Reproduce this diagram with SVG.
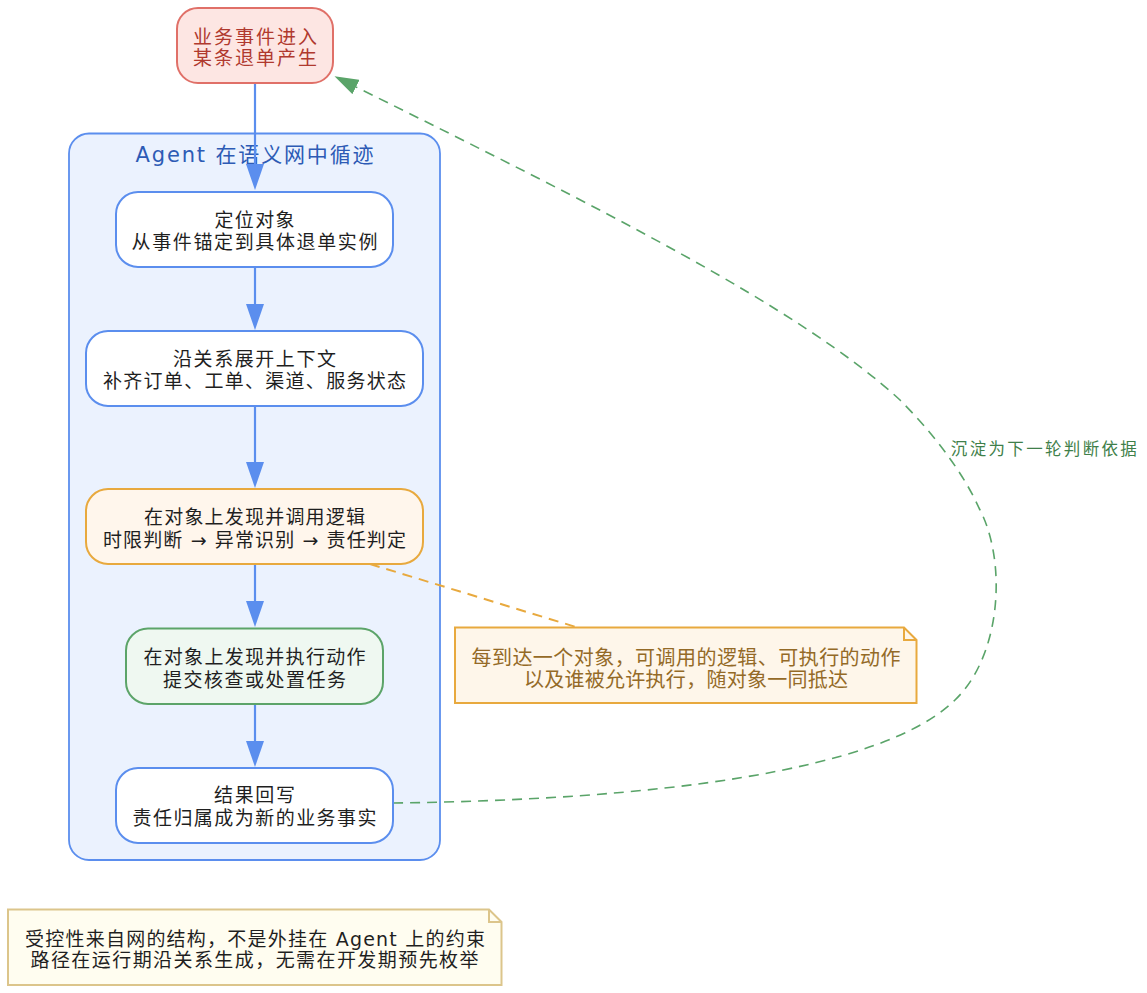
<svg xmlns="http://www.w3.org/2000/svg" width="1147" height="993" viewBox="0 0 1147 993">
<style>
text{font-family:"DejaVu Sans","Noto Sans CJK SC",sans-serif;font-size:19px;text-anchor:middle;dominant-baseline:central;fill:#1f1f1f}
.blue{fill:#ffffff;stroke:#5b8eee;stroke-width:2}
.e{fill:none;stroke:#5b8eee;stroke-width:2.2}
.title{fill:#2d5bb5;font-size:21px}
.lab{fill:#3f7f4a;font-size:16.5px;text-anchor:start}
.onote{fill:#946a27;font-size:20px}
.red{fill:#b0392e}
</style>
<defs>
<marker id="ab" viewBox="0 0 26 18" refX="0" refY="9" markerWidth="26" markerHeight="18" markerUnits="userSpaceOnUse" orient="auto"><path d="M0,0 L26,9 L0,18 Z" fill="#5b8eee"/></marker>
<marker id="ag" viewBox="0 0 24 16" refX="0" refY="8" markerWidth="24" markerHeight="16" markerUnits="userSpaceOnUse" orient="auto"><path d="M0,0 L24,8 L0,16 Z" fill="#5aa469"/></marker>
</defs>
<rect width="1147" height="993" fill="#ffffff"/>
<g id="cluster">
<rect x="69" y="133.5" width="371" height="726.5" rx="20" fill="#ebf2fe" stroke="#5b8eee" stroke-width="1.8"/>
<text class="title" x="254.5" y="155" textLength="238" lengthAdjust="spacing">Agent 在语义网中循迹</text>
</g>
<g id="connectors">
<path class="e" d="M255,83 L255,164" marker-end="url(#ab)"/>
<path class="e" d="M255,267 L255,304" marker-end="url(#ab)"/>
<path class="e" d="M255,406 L255,462" marker-end="url(#ab)"/>
<path class="e" d="M255,564 L255,601" marker-end="url(#ab)"/>
<path class="e" d="M255,704 L255,741" marker-end="url(#ab)"/>
<path d="M370,564 L576,627" fill="none" stroke="#e8a93e" stroke-width="2" stroke-dasharray="10,7"/>
<path d="M393,803 C650,800 882,772 955,700 C1002,655 1007,560 979,508 C962,470 930,430 900,400 C800,308 600,208 356,87" fill="none" stroke="#5aa469" stroke-width="1.6" stroke-dasharray="10,7" marker-end="url(#ag)"/>
<text class="lab" x="950.8" y="449" textLength="186" lengthAdjust="spacing">沉淀为下一轮判断依据</text>
</g>
<g id="start">
<rect x="177" y="8" width="156" height="75" rx="21" fill="#fde6e3" stroke="#e07068" stroke-width="2"/>
<text class="red" x="255" y="37" textLength="124" lengthAdjust="spacing">业务事件进入</text>
<text class="red" x="255" y="58" textLength="124" lengthAdjust="spacing">某条退单产生</text>
</g>
<g id="locate">
<rect class="blue" x="116" y="192" width="277" height="75" rx="22"/>
<text x="254.5" y="219.5" textLength="80" lengthAdjust="spacing">定位对象</text>
<text x="254.5" y="242" textLength="246" lengthAdjust="spacing">从事件锚定到具体退单实例</text>
</g>
<g id="expand">
<rect class="blue" x="86" y="331" width="337" height="75" rx="22"/>
<text x="254.5" y="358.5" textLength="163" lengthAdjust="spacing">沿关系展开上下文</text>
<text x="254.5" y="381" textLength="303" lengthAdjust="spacing">补齐订单、工单、渠道、服务状态</text>
</g>
<g id="logic">
<rect x="86" y="489" width="337" height="75" rx="22" fill="#fff6ec" stroke="#e8a93e" stroke-width="2"/>
<text x="254.5" y="516.5" textLength="221" lengthAdjust="spacing">在对象上发现并调用逻辑</text>
<text x="254.5" y="539.5" textLength="303" lengthAdjust="spacing">时限判断 → 异常识别 → 责任判定</text>
</g>
<g id="action">
<rect x="126" y="628.5" width="257" height="75.5" rx="22" fill="#eff8f1" stroke="#5ca469" stroke-width="2"/>
<text x="254.5" y="657" textLength="222" lengthAdjust="spacing">在对象上发现并执行动作</text>
<text x="254.5" y="679.5" textLength="183" lengthAdjust="spacing">提交核查或处置任务</text>
</g>
<g id="writeback">
<rect class="blue" x="116" y="768" width="277" height="75" rx="22"/>
<text x="254.5" y="795" textLength="81" lengthAdjust="spacing">结果回写</text>
<text x="254.5" y="818" textLength="244" lengthAdjust="spacing">责任归属成为新的业务事实</text>
</g>
<g id="note-arrive">
<path d="M455,627.5 H904 L916.5,640 V703 H455 Z" fill="#fef6ea" stroke="#e8a93e" stroke-width="2"/>
<path d="M904,627.5 V640 H916.5" fill="none" stroke="#e8a93e" stroke-width="2"/>
<text class="onote" x="686" y="658" textLength="429" lengthAdjust="spacing">每到达一个对象，可调用的逻辑、可执行的动作</text>
<text class="onote" x="686" y="680" textLength="324" lengthAdjust="spacing">以及谁被允许执行，随对象一同抵达</text>
</g>
<g id="note-control">
<path d="M8,909.5 H489 L501.5,922 V985 H8 Z" fill="#fffdf0" stroke="#dcc58b" stroke-width="2"/>
<path d="M489,909.5 V922 H501.5" fill="none" stroke="#dcc58b" stroke-width="2"/>
<text x="255" y="938.5" textLength="460" lengthAdjust="spacing">受控性来自网的结构，不是外挂在 Agent 上的约束</text>
<text x="254.5" y="959.5" textLength="448" lengthAdjust="spacing">路径在运行期沿关系生成，无需在开发期预先枚举</text>
</g>
</svg>
